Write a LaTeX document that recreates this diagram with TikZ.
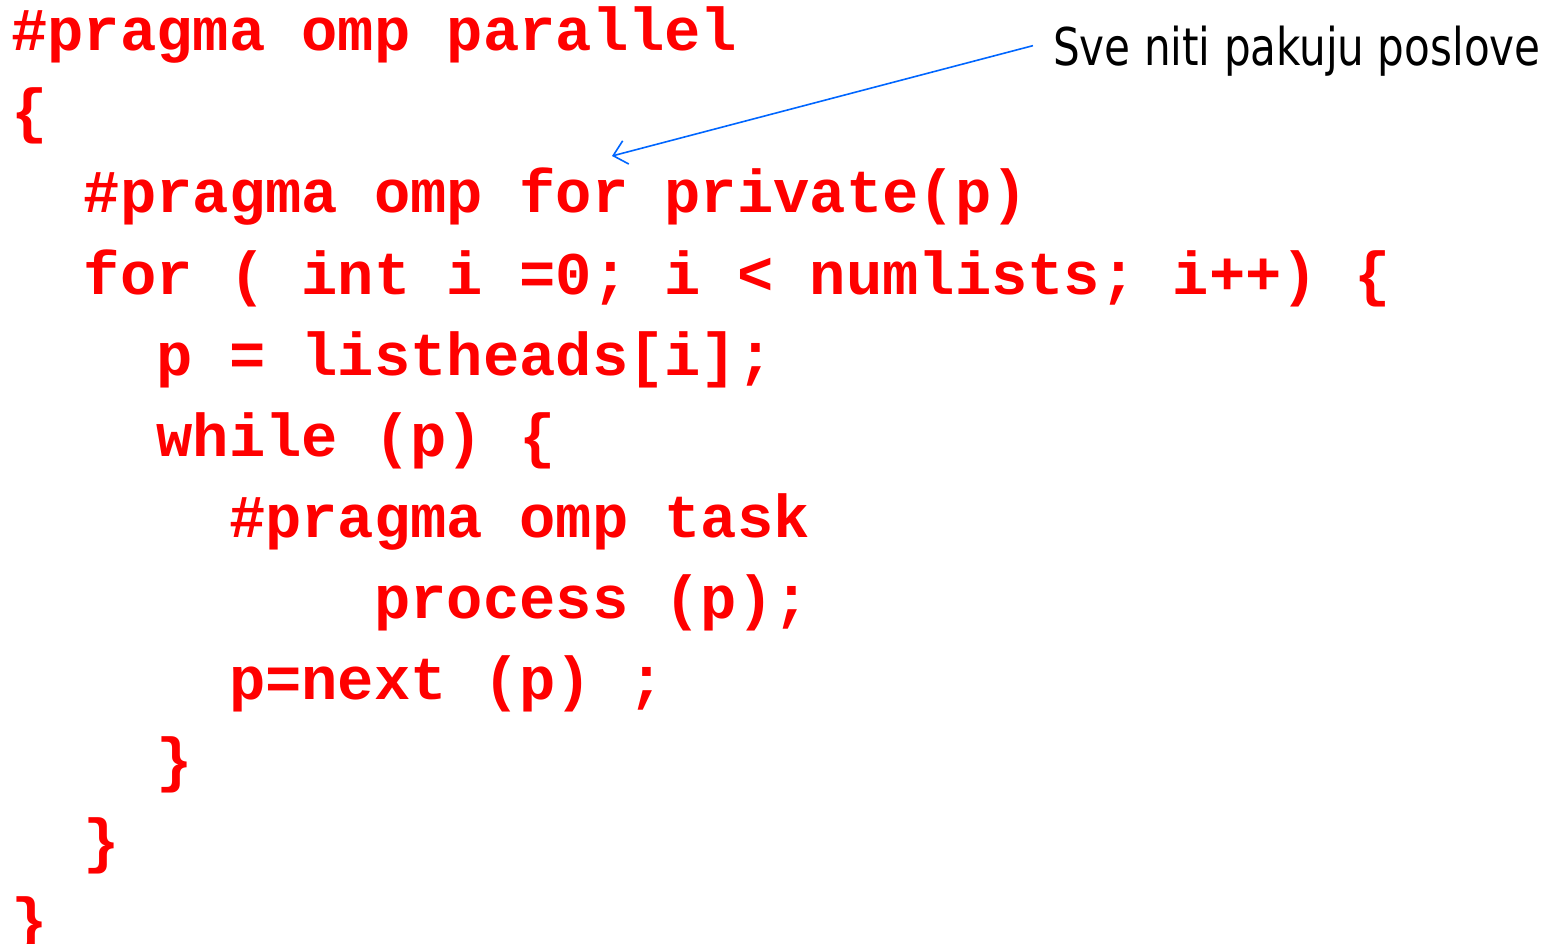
\documentclass[tikz,border=0pt]{standalone}
\usepackage{fontspec}
\setmonofont{Liberation Mono}
\newfontfamily\notefont[FakeStretch=0.9]{DejaVu Sans Condensed}
\usepackage{xcolor}
\usetikzlibrary{arrows.meta}
\definecolor{codered}{RGB}{255,0,0}
\definecolor{noteblue}{RGB}{0,102,255}

\begin{document}
\begin{tikzpicture}[x=1pt, y=-1pt,
    code/.style={anchor=base west, inner sep=0pt, text=codered,
        font=\fontsize{60.5}{72}\selectfont\ttfamily\bfseries},
    note/.style={anchor=base west, inner sep=0pt,
        font=\fontsize{52}{60}\selectfont\notefont}]
    \useasboundingbox (0,0) rectangle (1547,944);

    % Code lines
    \node[code] (l1) at (11,51) {\#pragma omp parallel};
    \node[code] (l2) at (11,132) {\{};
    \node[code] (l3) at (83.6,213) {\#pragma omp for private(p)};
    \node[code] (l4) at (83.6,294) {for ( int i =0; i < numlists; i++) \{};
    \node[code] (l5) at (156.2,375) {p = listheads[i];};
    \node[code] (l6) at (156.2,456) {while (p) \{};
    \node[code] (l7) at (228.8,537) {\#pragma omp task};
    \node[code] (l8) at (374,618) {process (p);};
    \node[code] (l9) at (228.8,699) {p=next (p) ;};
    \node[code] (l10) at (156.2,780) {\}};
    \node[code] (l11) at (83.6,861) {\}};
    \node[code] (l12) at (11,940) {\}};

    % Annotation
    \node[note] (note) at (1053,66) {Sve niti pakuju poslove};
    \coordinate (tip) at (612,156);
    \draw[-{Straight Barb[length=13pt, width=24pt]}, noteblue, line width=1.6pt]
        ([xshift=-20pt, yshift=6pt]note.west) -- (tip);
\end{tikzpicture}
\end{document}
